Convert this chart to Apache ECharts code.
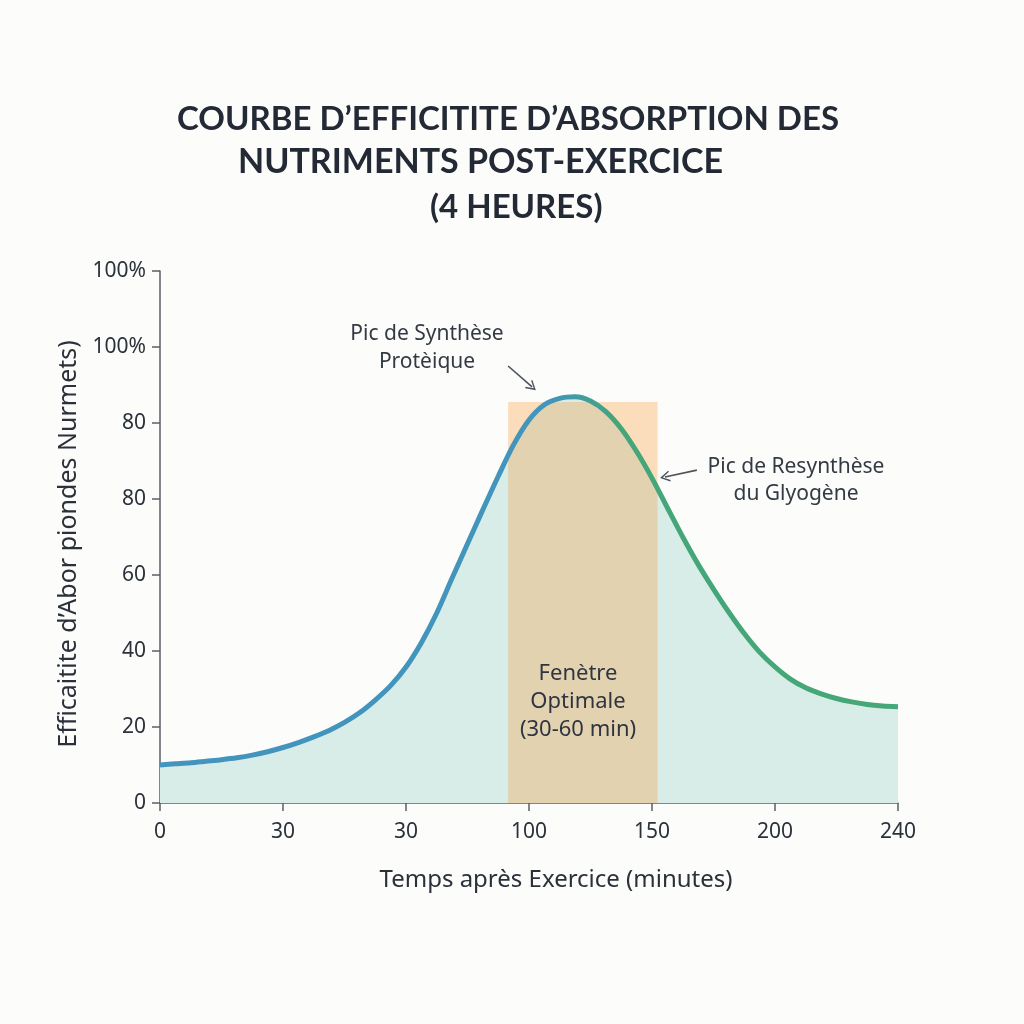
<!DOCTYPE html>
<html>
<head>
<meta charset="utf-8">
<script src="https://cdn.jsdelivr.net/npm/echarts@6/dist/echarts.min.js"></script>
<style>
  html, body { margin: 0; padding: 0; background: #fcfcfa; }
  #chart { width: 1024px; height: 1024px; }
</style>
</head>
<body>
<div id="chart"></div>
<script>
// temps (minutes) et efficacité
var timeMin = [0, 5, 10, 15, 20, 25, 30, 35, 40, 45, 50, 55, 60, 65, 70, 75, 80, 85, 90, 95, 100, 105, 110, 115, 120,
  125, 130, 135, 140, 145, 150, 155, 160, 165, 170, 175, 180, 185, 190, 195, 200, 205, 210, 215, 220, 225, 230, 235, 240];
var efficacite = [10, 10.3, 10.6, 11, 11.4, 11.9, 12.6, 13.5, 14.6, 15.9, 17.4, 19.1, 21.2, 23.8, 27.1, 30.9, 35.8, 42.2, 50, 59.2, 68.2, 77.2, 86, 94.3, 100.8,
  104.8, 106.5, 106.9, 105.8, 103, 98.5, 92.5, 85.5, 77.7, 70, 62.8, 56.3, 50.2, 44.6, 39.7, 35.8, 32.6, 30.3, 28.7, 27.5, 26.6, 25.9, 25.5, 25.3];

// fenêtre optimale
var windowX = [113.2, 161.8];
var windowTop = 105.5;

// libellés des graduations (tels qu'affichés)
var yLabels = ['0', '20', '40', '60', '80', '80', '100%', '100%'];
var xLabels = ['0', '30', '30', '100', '150', '200', '240'];

var curve = timeMin.map(function (t, i) { return [t, efficacite[i]]; });
var band = [[windowX[0], windowTop], [windowX[1], windowTop]];

var font = '"Noto Sans", "Open Sans", sans-serif';
var titleFont = 'bold 33px Lato, sans-serif';
var chevron = 'path://M0,12 L6,0 L12,12 L10.6,12.8 L6,3.6 L1.4,12.8 Z';

var option = {
  backgroundColor: '#fcfcfa',
  animation: false,
  graphic: [
    { type: 'text', x: 177, y: 119, style: { text: 'COURBE D\u2019EFFICITITE D\u2019ABSORPTION DES', font: titleFont, fill: '#232a35', verticalAlign: 'middle' } },
    { type: 'text', x: 238, y: 162, style: { text: 'NUTRIMENTS POST-EXERCICE', font: 'bold 34px Lato, sans-serif', fill: '#232a35', verticalAlign: 'middle' } },
    { type: 'text', x: 430, y: 207, style: { text: '(4 HEURES)', font: titleFont, fill: '#232a35', verticalAlign: 'middle' } },
    { type: 'text', x: 427, y: 348, style: { text: 'Pic de Synthèse\nProtèique', font: '21px ' + font, fill: '#333a44', align: 'center', verticalAlign: 'middle', lineHeight: 28 } },
    { type: 'text', x: 796, y: 481, style: { text: 'Pic de Resynthèse\ndu Glyogène', font: '21px ' + font, fill: '#333a44', align: 'center', verticalAlign: 'middle', lineHeight: 27 } },
    { type: 'text', x: 578, y: 702, z: 10, style: { text: 'Fenètre\nOptimale\n(30-60 min)', font: '22px ' + font, fill: '#2f3540', align: 'center', verticalAlign: 'middle', lineHeight: 28 } }
  ],
  grid: { left: 160, right: 126, top: 271, bottom: 221 },
  xAxis: {
    type: 'value', min: 0, max: 240, interval: 40,
    name: 'Temps après Exercice (minutes)', nameLocation: 'middle', nameGap: 65,
    nameTextStyle: { fontFamily: font, fontSize: 24, color: '#2b313b', padding: [0, 0, 0, 54] },
    axisLine: { show: true, lineStyle: { color: '#5a5f66', width: 1.5 } },
    axisTick: { show: true, length: 8, lineStyle: { color: '#5a5f66', width: 1.5 } },
    axisLabel: { margin: 19, fontFamily: font, fontSize: 21, color: '#2b313b',
      formatter: function (v) { return xLabels[Math.round(v / 40)]; } },
    splitLine: { show: false }
  },
  yAxis: {
    type: 'value', min: 0, max: 140, interval: 20,
    name: 'Efficaitite d\u2019Abor piondes Nurmets)', nameLocation: 'middle', nameGap: 73, nameRotate: 90,
    nameTextStyle: { fontFamily: font, fontSize: 25, color: '#2b313b', padding: [0, 14, 0, 0] },
    axisLine: { show: true, lineStyle: { color: '#5a5f66', width: 1.5 } },
    axisTick: { show: true, length: 8, lineStyle: { color: '#5a5f66', width: 1.5 } },
    axisLabel: { margin: 14, fontFamily: font, fontSize: 21, color: '#2b313b',
      formatter: function (v) { return yLabels[Math.round(v / 20)]; } },
    splitLine: { show: false }
  },
  series: [
    {
      name: 'remplissage', type: 'line', data: curve, smooth: 0.3, symbol: 'none', z: 1,
      lineStyle: { width: 0 },
      areaStyle: { color: '#d8ece8', opacity: 1 }
    },
    {
      name: 'fenetre', type: 'line', data: band, symbol: 'none', z: 2,
      lineStyle: { width: 0 },
      areaStyle: { color: 'rgba(249,159,63,0.33)', opacity: 1 }
    },
    {
      name: 'efficacite', type: 'line', data: curve, smooth: 0.3, symbol: 'none', z: 3,
      lineStyle: {
        width: 5,
        color: new echarts.graphic.LinearGradient(0, 0, 1, 0, [
          { offset: 0, color: '#4394be' },
          { offset: 0.53, color: '#4295bb' },
          { offset: 0.62, color: '#44a679' },
          { offset: 1, color: '#46a878' }
        ])
      },
      markLine: {
        silent: true, symbol: ['none', chevron], symbolSize: [11, 10],
        label: { show: false },
        lineStyle: { color: '#4d535c', width: 1.6, type: 'solid' },
        data: [
          [{ coord: [113.2, 115] }, { coord: [121, 109.5] }],
          [{ coord: [174.6, 87.6] }, { coord: [164.2, 85.8] }]
        ]
      }
    }
  ]
};

var chart = echarts.init(document.getElementById('chart'));
chart.setOption(option);
</script>
</body>
</html>
